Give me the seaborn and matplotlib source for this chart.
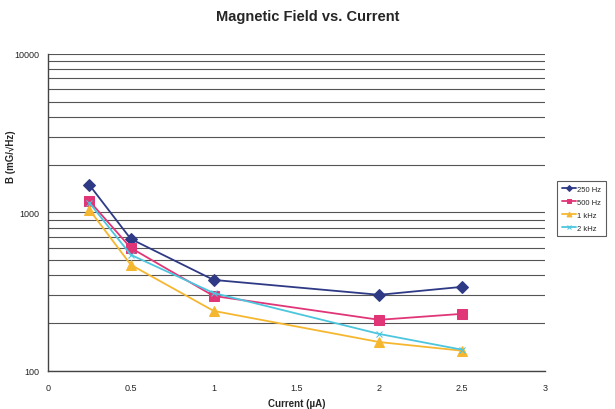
import matplotlib
matplotlib.use("Agg")
import matplotlib.pyplot as plt
import seaborn as sns
import pandas as pd
from matplotlib.ticker import FixedLocator, NullFormatter, LogLocator

sns.set_style("white")
plt.rcParams['font.family'] = ['Liberation Sans', 'DejaVu Sans']

current = [0.25, 0.5, 1, 2, 2.5]
b_250hz = [1490, 680, 375, 302, 339]
b_500hz = [1180, 597, 297, 210, 229]
b_1khz = [1040, 467, 239, 152, 134]
b_2khz = [1150, 540, 310, 171, 136]
series_names = ["250 Hz", "500 Hz", "1 kHz", "2 kHz"]

rows = []
for name, vals in zip(series_names, [b_250hz, b_500hz, b_1khz, b_2khz]):
    for x, y in zip(current, vals):
        rows.append({"Current": x, "B": y, "Series": name})
df = pd.DataFrame(rows)

colors = {"250 Hz": "#2E3A85", "500 Hz": "#E03678", "1 kHz": "#F6B730", "2 kHz": "#4CC6DE"}
markers = {"250 Hz": "D", "500 Hz": "s", "1 kHz": "^", "2 kHz": "x"}
msizes = {"250 Hz": 6, "500 Hz": 7, "1 kHz": 7, "2 kHz": 5}

fig = plt.figure(figsize=(6.15, 4.1), dpi=100)
ax = fig.add_axes([0.078, 0.093, 0.808, 0.773])

for name in series_names:
    sub = df[df["Series"] == name]
    sns.lineplot(data=sub, x="Current", y="B", ax=ax, color=colors[name],
                 marker=markers[name], markersize=msizes[name], linewidth=1.3,
                 markeredgecolor=colors[name], label=name, zorder=3)

ax.set_yscale("log")
ax.set_ylim(100, 10000)
ax.set_xlim(0, 3)
ax.set_xticks([0, 0.5, 1, 1.5, 2, 2.5, 3])
ax.set_xticklabels(["0", "0.5", "1", "1.5", "2", "2.5", "3"])
ax.yaxis.set_major_locator(FixedLocator([100, 1000, 10000]))
ax.set_yticklabels(["100", "1000", "10000"])
ax.yaxis.set_minor_locator(LogLocator(base=10, subs=range(2, 10)))
ax.yaxis.set_minor_formatter(NullFormatter())
ax.grid(True, which="both", axis="y", color="#555555", linewidth=0.8)
ax.tick_params(axis="both", which="major", labelsize=6.5, length=3, color="#333333", direction="out")
ax.tick_params(axis="y", which="minor", length=0)
ax.tick_params(axis="x", pad=6)
for s in ["top", "right"]:
    ax.spines[s].set_visible(False)
for s in ["left", "bottom"]:
    ax.spines[s].set_color("#444444")
    ax.spines[s].set_linewidth(1.0)

ax.set_xlabel("Current (\u00b5A)", fontsize=7, fontweight="bold", labelpad=4)
ax.set_ylabel("B (mG/\u221aHz)", fontsize=7, fontweight="bold")
ax.yaxis.set_label_coords(-0.064, 0.68)
fig.suptitle("Magnetic Field vs. Current", fontsize=10.5, fontweight="bold", y=0.975)

leg = ax.legend(loc="upper left", bbox_to_anchor=(1.025, 0.6), fontsize=5.5,
                frameon=True, fancybox=False, edgecolor="#333333",
                handlelength=1.8, handletextpad=0.2, borderpad=0.6, borderaxespad=0,
                labelspacing=0.75, markerscale=0.5)
leg.get_frame().set_linewidth(0.8)

fig.savefig("out.png", dpi=100)
